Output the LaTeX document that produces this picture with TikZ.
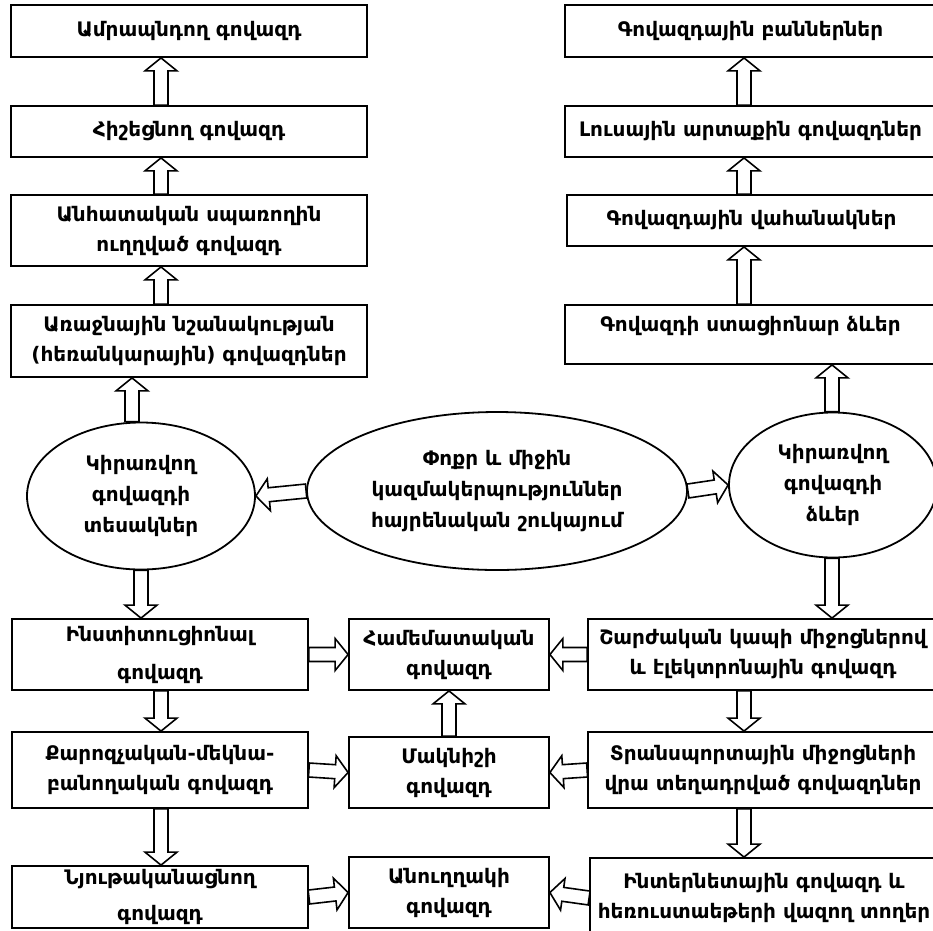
\documentclass[tikz,border=0pt]{standalone}
\usepackage{fontspec}
\setmainfont{DejaVu Sans}
\usetikzlibrary{shapes.geometric,calc}
\tikzset{
  gbox/.style={draw=black, line width=1.8pt, align=center, inner sep=0pt,
               font=\bfseries\fontsize{20pt}{30pt}\selectfont},
  gell/.style={ellipse, draw=black, line width=1.8pt, align=center, inner sep=0pt,
               font=\bfseries\fontsize{20pt}{31pt}\selectfont},
  hollow/.style={draw=black, line width=1.6pt, fill=white, line join=miter,
    to path={
      ($(\tikztotarget)!13pt!(\tikztostart)$) coordinate (hb)
      ($(\tikztostart)!7pt!90:(\tikztotarget)$)
      -- ($(hb)!7pt!90:(\tikztotarget)$) -- ($(hb)!16pt!90:(\tikztotarget)$)
      -- (\tikztotarget)
      -- ($(hb)!16pt!-90:(\tikztotarget)$) -- ($(hb)!7pt!-90:(\tikztotarget)$)
      -- ($(\tikztostart)!7pt!-90:(\tikztotarget)$) -- cycle}},
}

\begin{document}
\begin{tikzpicture}[x=1pt, y=-1pt]
  \clip (0,0) rectangle (933,930);
  \coordinate (colL) at (161,0);
  \coordinate (colK) at (132,0);
  \coordinate (colR) at (744,0);
  \coordinate (colE) at (832,0);

  % left column
  \node[gbox, minimum width=356pt, minimum height=52pt] (L1) at (189,31) {Ամրապնդող գովազդ};
  \node[gbox, minimum width=356pt, minimum height=51pt] (L2) at (189,131.5) {Հիշեցնող գովազդ};
  \node[gbox, minimum width=356pt, minimum height=71pt] (L3) at (189,230.5) {Անհատական սպառողին\\ուղղված գովազդ};
  \node[gbox, minimum width=356pt, minimum height=72pt] (L4) at (189,341) {Առաջնային նշանակության\\(հեռանկարային) գովազդներ};

  % right column
  \node[gbox, minimum width=371pt, minimum height=52pt] (R1) at (750.5,31) {Գովազդային բաններներ};
  \node[gbox, minimum width=371pt, minimum height=51pt] (R2) at (750.5,131.5) {Լուսային արտաքին գովազդներ};
  \node[gbox, minimum width=369pt, minimum height=51pt] (R3) at (751.5,220.5) {Գովազդային վահանակներ};
  \node[gbox, minimum width=371pt, minimum height=59pt] (R4) at (750.5,334.5) {Գովազդի ստացիոնար ձևեր\\[-8pt]~};

  % ellipses
  \node[gell, minimum width=228pt, minimum height=147pt] (kind) at (141,496) {Կիրառվող\\գովազդի\\տեսակներ};
  \node[gell, minimum width=380pt, minimum height=158pt] (mid) at (497,491) {Փոքր և միջին\\կազմակերպություններ\\հայրենական շուկայում};
  \node[gell, minimum width=208pt, minimum height=145pt] (form) at (833,485) {Կիրառվող\\գովազդի\\ձևեր};

  % bottom rows
  \node[gbox, minimum width=296pt, minimum height=71pt] (B1) at (160,654.5) {Ինստիտուցիոնալ\\[8pt]գովազդ};
  \node[gbox, minimum width=296pt, minimum height=76pt] (B2) at (160,770) {Քարոզչական-մեկնա-\\բանողական գովազդ};
  \node[gbox, minimum width=296pt, minimum height=62pt] (B3) at (160,897) {Նյութականացնող\\[6pt]գովազդ};
  \node[gbox, minimum width=200pt, minimum height=71pt] (M1) at (449,654.5) {Համեմատական\\գովազդ};
  \node[gbox, minimum width=200pt, minimum height=71pt] (M2) at (449,772.5) {Մակնիշի\\գովազդ};
  \node[gbox, minimum width=200pt, minimum height=71pt] (M3) at (449,892.5) {Անուղղակի\\գովազդ};
  \node[gbox, minimum width=350pt, minimum height=71pt] (RB1) at (763,654.5) {Շարժական կապի միջոցներով\\և էլեկտրոնային գովազդ};
  \node[gbox, minimum width=350pt, minimum height=76pt] (RB2) at (763,770) {Տրանսպորտային միջոցների\\վրա տեղադրված գովազդներ};
  \node[gbox, minimum width=348pt, minimum height=80pt] (RB3) at (764,898) {Ինտերնետային գովազդ և\\հեռուստաեթերի վազող տողեր};

  % arrows
  \draw[hollow] (L2.north -| colL) to (L1.south -| colL);
  \draw[hollow] (L3.north -| colL) to (L2.south -| colL);
  \draw[hollow] (L4.north -| colL) to (L3.south -| colL);
  \draw[hollow] (kind.north -| colK) to (L4.south -| colK);
  \draw[hollow] (R2.north -| colR) to (R1.south -| colR);
  \draw[hollow] (R3.north -| colR) to (R2.south -| colR);
  \draw[hollow] (R4.north -| colR) to (R3.south -| colR);
  \draw[hollow] (form.north -| colE) to (R4.south -| colE);
  \draw[hollow] (mid.west) to (kind.east);
  \draw[hollow] (mid.east) to (form.west);
  \draw[hollow] (kind.south) to (kind.south |- B1.north);
  \draw[hollow] (form.south -| colE) to (RB1.north -| colE);
  \draw[hollow] (B1.south -| colL) to (B2.north -| colL);
  \draw[hollow] (B2.south -| colL) to (B3.north -| colL);
  \draw[hollow] (RB1.south -| colR) to (RB2.north -| colR);
  \draw[hollow] (RB2.south -| colR) to (RB3.north -| colR);
  \draw[hollow] (B1.east) to (M1.west);
  \draw[hollow] (B2.east) to (M2.west);
  \draw[hollow] (B3.east) to (M3.west);
  \draw[hollow] (RB1.west) to (M1.east);
  \draw[hollow] (RB2.west) to (M2.east);
  \draw[hollow] (RB3.west) to (M3.east);
  \draw[hollow] (M2.north) to (M1.south);
\end{tikzpicture}
\end{document}
